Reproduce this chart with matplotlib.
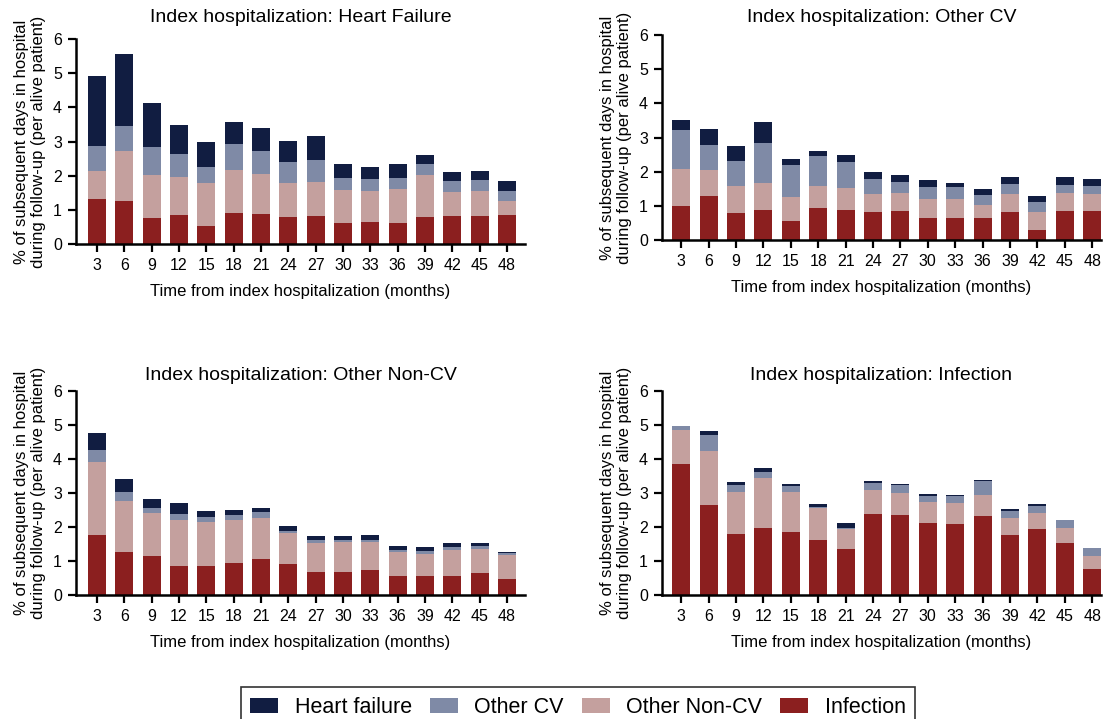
import matplotlib
matplotlib.use("Agg")
import matplotlib.pyplot as plt
import numpy as np
from matplotlib.patches import Patch

plt.rcParams['font.family'] = ['Liberation Sans', 'DejaVu Sans']

months = [3, 6, 9, 12, 15, 18, 21, 24, 27, 30, 33, 36, 39, 42, 45, 48]
series_names = ["Heart failure", "Other CV", "Other Non-CV", "Infection"]
colors = {"Heart failure": "#111d41", "Other CV": "#7f8aa6",
          "Other Non-CV": "#c4a09e", "Infection": "#8b1f1f"}

# cumulative tops (Infection, +Non-CV, +Other CV, +HF)
hf_cum = {
    "Infection":    [1.31, 1.27, 0.77, 0.86, 0.54, 0.92, 0.89, 0.80, 0.83, 0.62, 0.65, 0.62, 0.80, 0.83, 0.83, 0.86],
    "Other Non-CV": [2.15, 2.73, 2.01, 1.97, 1.78, 2.18, 2.06, 1.80, 1.82, 1.59, 1.56, 1.62, 2.03, 1.53, 1.56, 1.27],
    "Other CV":     [2.88, 3.46, 2.85, 2.64, 2.26, 2.94, 2.73, 2.41, 2.47, 1.94, 1.91, 1.94, 2.35, 1.85, 1.88, 1.56],
    "Heart failure":[4.93, 5.55, 4.14, 3.49, 3.00, 3.58, 3.40, 3.02, 3.17, 2.35, 2.26, 2.35, 2.61, 2.12, 2.15, 1.85],
}
ocv_cum = {
    "Infection":    [1.00, 1.29, 0.79, 0.88, 0.56, 0.94, 0.88, 0.82, 0.85, 0.64, 0.64, 0.64, 0.82, 0.29, 0.85, 0.85],
    "Other Non-CV": [2.07, 2.05, 1.58, 1.67, 1.26, 1.58, 1.52, 1.35, 1.38, 1.20, 1.20, 1.02, 1.35, 0.82, 1.38, 1.35],
    "Other CV":     [3.22, 2.78, 2.31, 2.84, 2.20, 2.46, 2.28, 1.79, 1.70, 1.55, 1.55, 1.32, 1.64, 1.11, 1.61, 1.58],
    "Heart failure":[3.51, 3.25, 2.75, 3.45, 2.37, 2.60, 2.49, 1.99, 1.89, 1.76, 1.67, 1.49, 1.84, 1.29, 1.84, 1.79],
}
noncv_cum = {
    "Infection":    [1.76, 1.26, 1.14, 0.85, 0.85, 0.94, 1.06, 0.91, 0.68, 0.68, 0.73, 0.56, 0.56, 0.56, 0.65, 0.47],
    "Other Non-CV": [3.90, 2.76, 2.41, 2.20, 2.14, 2.20, 2.26, 1.82, 1.53, 1.56, 1.56, 1.26, 1.20, 1.32, 1.35, 1.17],
    "Other CV":     [4.26, 3.02, 2.55, 2.38, 2.29, 2.35, 2.44, 1.88, 1.61, 1.61, 1.61, 1.32, 1.29, 1.41, 1.44, 1.23],
    "Heart failure":[4.76, 3.41, 2.82, 2.70, 2.47, 2.49, 2.55, 2.03, 1.73, 1.73, 1.76, 1.44, 1.41, 1.53, 1.53, 1.26],
}
inf_cum = {
    "Infection":    [3.85, 2.66, 1.79, 1.97, 1.85, 1.61, 1.35, 2.38, 2.35, 2.11, 2.08, 2.32, 1.76, 1.94, 1.53, 0.76],
    "Other Non-CV": [4.84, 4.23, 3.02, 3.43, 3.02, 2.55, 1.94, 3.08, 2.99, 2.73, 2.70, 2.94, 2.26, 2.41, 1.97, 1.14],
    "Other CV":     [4.96, 4.70, 3.23, 3.61, 3.20, 2.58, 1.97, 3.29, 3.23, 2.91, 2.91, 3.35, 2.47, 2.61, 2.20, 1.38],
    "Heart failure":[4.96, 4.81, 3.32, 3.73, 3.26, 2.67, 2.11, 3.35, 3.26, 2.96, 2.94, 3.38, 2.52, 2.67, 2.20, 1.38],
}

# (title, data, axes rect in px [left, top, right, bottom], xlim, title y px)
panels = [
    ("Index hospitalization: Heart Failure", hf_cum, (76, 39, 525, 244), (-0.77, 15.66), 18),
    ("Index hospitalization: Other CV", ocv_cum, (662, 35, 1101, 240), (-0.70, 15.32), 18),
    ("Index hospitalization: Other Non-CV", noncv_cum, (76, 391, 525, 595), (-0.77, 15.66), 376),
    ("Index hospitalization: Infection", inf_cum, (662, 391, 1101, 595), (-0.70, 15.32), 376),
]

W, H = 1107, 719
fig = plt.figure(figsize=(W / 100, H / 100), dpi=100)
order = ["Infection", "Other Non-CV", "Other CV", "Heart failure"]
x = np.arange(len(months))
for title, cum, (l, t, r, b), xl, ty in panels:
    ax = fig.add_axes([l / W, 1 - b / H, (r - l) / W, (b - t) / H])
    prev = np.zeros(len(months))
    for name in order:
        top = np.array(cum[name])
        ax.bar(x, top - prev, bottom=prev, width=0.66, color=colors[name], linewidth=0)
        prev = top
    ax.set_xlim(*xl)
    ax.set_ylim(0, 6)
    ax.set_yticks(range(0, 7))
    ax.set_xticks(x)
    ax.set_xticklabels([str(m) for m in months])
    for s in ["top", "right"]:
        ax.spines[s].set_visible(False)
    for s in ["left", "bottom"]:
        ax.spines[s].set_linewidth(1.8)
    ax.tick_params(axis="both", labelsize=11.5, width=1.6, length=6, direction="out", pad=4)
    fig.text((l + r) / 2 / W, 1 - ty / H, title, ha="center", va="center", fontsize=14)
    ax.set_xlabel("Time from index hospitalization (months)", fontsize=12, labelpad=8)
    ax.set_ylabel("% of subsequent days in hospital\nduring follow-up (per alive patient)", fontsize=12, labelpad=5)

handles = [Patch(facecolor=colors[n], edgecolor="none") for n in series_names]
leg = fig.legend(handles, series_names, loc="upper center", bbox_to_anchor=(578 / W, 1 - 687 / H),
                 ncol=4, fontsize=15.5, frameon=True, fancybox=False, edgecolor="black",
                 handlelength=1.3, handleheight=0.7, columnspacing=0.85, handletextpad=0.75,
                 borderpad=0.45, borderaxespad=0)
leg.get_frame().set_linewidth(1.2)

fig.savefig("out.png", dpi=100)
